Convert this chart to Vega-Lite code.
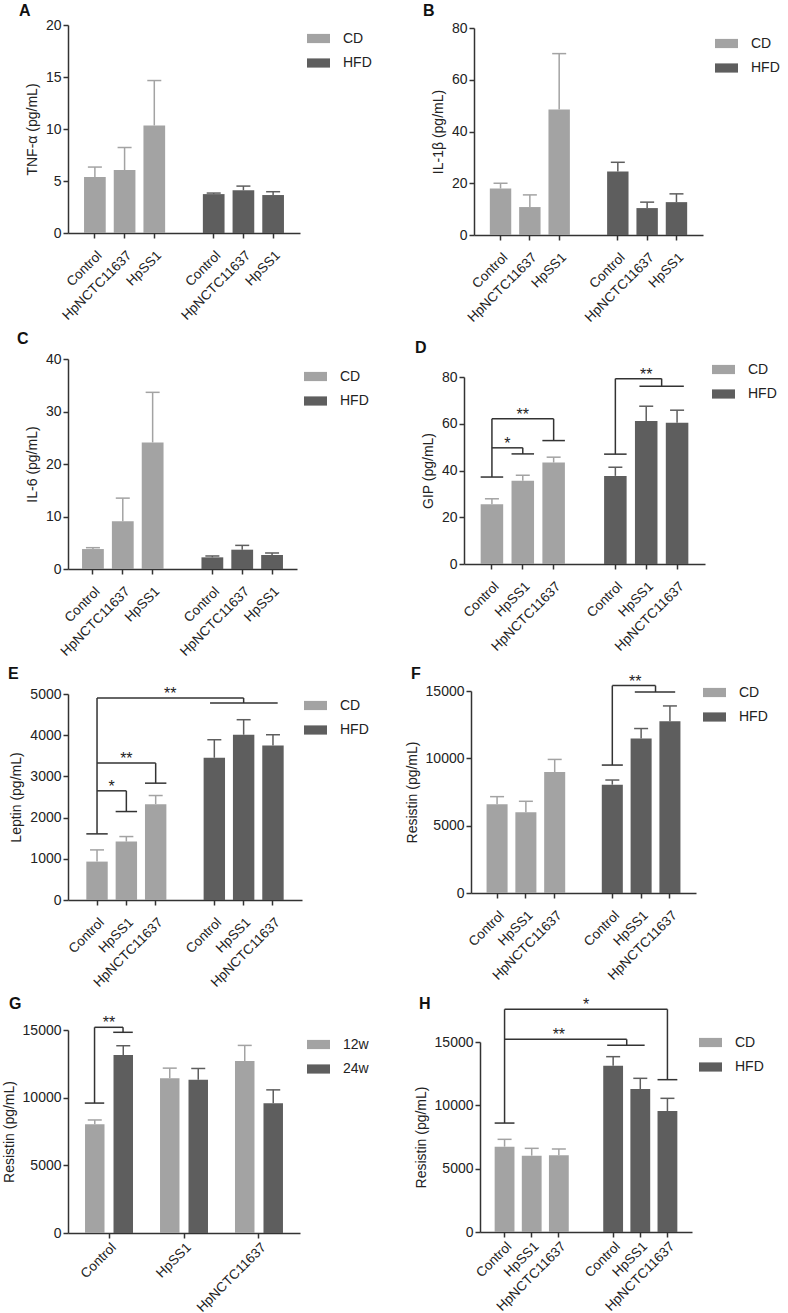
{
"$schema": "https://vega.github.io/schema/vega-lite/v6.json",
"padding": {"left": 2, "top": 3, "right": 2, "bottom": 0},
"background": "white",
"config": {
 "view": {"stroke": null},
 "font": "Liberation Sans",
 "axis": {"labelFont": "Liberation Sans", "titleFont": "Liberation Sans", "labelFontSize": 14, "titleFontSize": 14, "titleFontWeight": "normal", "labelColor": "#222", "titleColor": "#222", "domainColor": "#333", "tickColor": "#333", "domainWidth": 1.5, "tickWidth": 1.5, "tickSize": 5, "grid": false, "labelPadding": 2},
 "axisX": {"labelAngle": -45, "labelFontSize": 13.5, "labelPadding": 10},
 "axisY": {"titlePadding": 6},
 "legend": {"orient": "none", "symbolType": "M-1,-0.4H1V0.4H-1Z", "symbolSize": 529, "symbolStrokeWidth": 0, "symbolOpacity": 1, "labelFont": "Liberation Sans", "labelFontSize": 14, "labelColor": "#222", "labelOffset": 13, "rowPadding": 5.5, "padding": 0},
 "title": {"anchor": "start", "frame": "group", "fontSize": 16, "fontWeight": "bold", "font": "Liberation Sans", "color": "#111", "offset": 4},
 "text": {"font": "Liberation Sans"},
 "tick": {"opacity": 1}
},
"datasets": {
 "bars": [
  {"panel": "A", "group": "CD", "key": "CD|Control", "mean": 5.38, "upper": 6.34},
  {"panel": "A", "group": "CD", "key": "CD|HpNCTC11637", "mean": 6.05, "upper": 8.22},
  {"panel": "A", "group": "CD", "key": "CD|HpSS1", "mean": 10.34, "upper": 14.66},
  {"panel": "A", "group": "HFD", "key": "HFD|Control", "mean": 3.74, "upper": 3.84},
  {"panel": "A", "group": "HFD", "key": "HFD|HpNCTC11637", "mean": 4.1, "upper": 4.51},
  {"panel": "A", "group": "HFD", "key": "HFD|HpSS1", "mean": 3.65, "upper": 3.97},
  {"panel": "B", "group": "CD", "key": "CD|Control", "mean": 17.97, "upper": 20.0},
  {"panel": "B", "group": "CD", "key": "CD|HpNCTC11637", "mean": 10.8, "upper": 15.5},
  {"panel": "B", "group": "CD", "key": "CD|HpSS1", "mean": 48.5, "upper": 70.1},
  {"panel": "B", "group": "HFD", "key": "HFD|Control", "mean": 24.5, "upper": 28.1},
  {"panel": "B", "group": "HFD", "key": "HFD|HpNCTC11637", "mean": 10.4, "upper": 12.7},
  {"panel": "B", "group": "HFD", "key": "HFD|HpSS1", "mean": 12.7, "upper": 15.9},
  {"panel": "C", "group": "CD", "key": "CD|Control", "mean": 3.8, "upper": 4.06},
  {"panel": "C", "group": "CD", "key": "CD|HpNCTC11637", "mean": 9.08, "upper": 13.5},
  {"panel": "C", "group": "CD", "key": "CD|HpSS1", "mean": 24.1, "upper": 33.65},
  {"panel": "C", "group": "HFD", "key": "HFD|Control", "mean": 2.22, "upper": 2.48},
  {"panel": "C", "group": "HFD", "key": "HFD|HpNCTC11637", "mean": 3.68, "upper": 4.5},
  {"panel": "C", "group": "HFD", "key": "HFD|HpSS1", "mean": 2.67, "upper": 3.05},
  {"panel": "D", "group": "CD", "key": "CD|Control", "mean": 25.6, "upper": 27.9},
  {"panel": "D", "group": "CD", "key": "CD|HpSS1", "mean": 35.6, "upper": 38.0},
  {"panel": "D", "group": "CD", "key": "CD|HpNCTC11637", "mean": 43.4, "upper": 45.7},
  {"panel": "D", "group": "HFD", "key": "HFD|Control", "mean": 37.7, "upper": 41.4},
  {"panel": "D", "group": "HFD", "key": "HFD|HpSS1", "mean": 61.2, "upper": 67.5},
  {"panel": "D", "group": "HFD", "key": "HFD|HpNCTC11637", "mean": 60.4, "upper": 65.8},
  {"panel": "E", "group": "CD", "key": "CD|Control", "mean": 932, "upper": 1216},
  {"panel": "E", "group": "CD", "key": "CD|HpSS1", "mean": 1418, "upper": 1540},
  {"panel": "E", "group": "CD", "key": "CD|HpNCTC11637", "mean": 2326, "upper": 2536},
  {"panel": "E", "group": "HFD", "key": "HFD|Control", "mean": 3452, "upper": 3890},
  {"panel": "E", "group": "HFD", "key": "HFD|HpSS1", "mean": 4011, "upper": 4376},
  {"panel": "E", "group": "HFD", "key": "HFD|HpNCTC11637", "mean": 3752, "upper": 4011},
  {"panel": "F", "group": "CD", "key": "CD|Control", "mean": 6588, "upper": 7155},
  {"panel": "F", "group": "CD", "key": "CD|HpSS1", "mean": 5996, "upper": 6810},
  {"panel": "F", "group": "CD", "key": "CD|HpNCTC11637", "mean": 8981, "upper": 9919},
  {"panel": "F", "group": "HFD", "key": "HFD|Control", "mean": 8043, "upper": 8389},
  {"panel": "F", "group": "HFD", "key": "HFD|HpSS1", "mean": 11473, "upper": 12213},
  {"panel": "F", "group": "HFD", "key": "HFD|HpNCTC11637", "mean": 12756, "upper": 13891},
  {"panel": "G", "group": "12w", "key": "Control", "mean": 8031, "upper": 8352},
  {"panel": "G", "group": "24w", "key": "Control", "mean": 13146, "upper": 13838},
  {"panel": "G", "group": "12w", "key": "HpSS1", "mean": 11441, "upper": 12182},
  {"panel": "G", "group": "24w", "key": "HpSS1", "mean": 11317, "upper": 12157},
  {"panel": "G", "group": "12w", "key": "HpNCTC11637", "mean": 12701, "upper": 13862},
  {"panel": "G", "group": "24w", "key": "HpNCTC11637", "mean": 9587, "upper": 10576},
  {"panel": "H", "group": "CD", "key": "CD|Control", "mean": 6737, "upper": 7316},
  {"panel": "H", "group": "CD", "key": "CD|HpSS1", "mean": 6026, "upper": 6605},
  {"panel": "H", "group": "CD", "key": "CD|HpNCTC11637", "mean": 6053, "upper": 6553},
  {"panel": "H", "group": "HFD", "key": "HFD|Control", "mean": 13132, "upper": 13842},
  {"panel": "H", "group": "HFD", "key": "HFD|HpSS1", "mean": 11289, "upper": 12132},
  {"panel": "H", "group": "HFD", "key": "HFD|HpNCTC11637", "mean": 9553, "upper": 10553}
 ],
 "brk": [
  {"panel": "D", "kind": "cap", "x": "CD|Control", "y": 37.2},
  {"panel": "D", "kind": "v", "x": "CD|Control", "y": 37.2, "y2": 62.1},
  {"panel": "D", "kind": "h", "x": "CD|Control", "x2": "CD|HpSS1", "y": 49.7},
  {"panel": "D", "kind": "v", "x": "CD|HpSS1", "y": 49.7, "y2": 47.1},
  {"panel": "D", "kind": "cap", "x": "CD|HpSS1", "y": 47.1},
  {"panel": "D", "kind": "h", "x": "CD|Control", "x2": "CD|HpNCTC11637", "y": 62.1},
  {"panel": "D", "kind": "v", "x": "CD|HpNCTC11637", "y": 62.1, "y2": 52.8},
  {"panel": "D", "kind": "cap", "x": "CD|HpNCTC11637", "y": 52.8},
  {"panel": "D", "kind": "tm", "x": "CD|Control", "y": 49.7, "label": "*"},
  {"panel": "D", "kind": "tc", "x": "CD|HpSS1", "y": 62.1, "label": "**"},
  {"panel": "D", "kind": "cap", "x": "HFD|Control", "y": 47.0},
  {"panel": "D", "kind": "v", "x": "HFD|Control", "y": 47.0, "y2": 79.3},
  {"panel": "D", "kind": "hm", "x": "HFD|Control", "x2": "HFD|HpSS1", "y": 79.3},
  {"panel": "D", "kind": "vm", "x": "HFD|HpSS1", "y": 79.3, "y2": 76.0},
  {"panel": "D", "kind": "span", "x": "HFD|HpSS1", "x2": "HFD|HpNCTC11637", "y": 76.0},
  {"panel": "D", "kind": "tc", "x": "HFD|HpSS1", "y": 79.3, "label": "**"},
  {"panel": "E", "kind": "cap", "x": "CD|Control", "y": 1605},
  {"panel": "E", "kind": "v", "x": "CD|Control", "y": 1605, "y2": 4903},
  {"panel": "E", "kind": "h", "x": "CD|Control", "x2": "CD|HpSS1", "y": 2650},
  {"panel": "E", "kind": "v", "x": "CD|HpSS1", "y": 2650, "y2": 2147},
  {"panel": "E", "kind": "cap", "x": "CD|HpSS1", "y": 2147},
  {"panel": "E", "kind": "h", "x": "CD|Control", "x2": "CD|HpNCTC11637", "y": 3323},
  {"panel": "E", "kind": "v", "x": "CD|HpNCTC11637", "y": 3323, "y2": 2836},
  {"panel": "E", "kind": "cap", "x": "CD|HpNCTC11637", "y": 2836},
  {"panel": "E", "kind": "h", "x": "CD|Control", "x2": "HFD|HpSS1", "y": 4903},
  {"panel": "E", "kind": "v", "x": "HFD|HpSS1", "y": 4903, "y2": 4781},
  {"panel": "E", "kind": "span", "x": "HFD|Control", "x2": "HFD|HpNCTC11637", "y": 4781},
  {"panel": "E", "kind": "tm", "x": "CD|Control", "y": 2650, "label": "*"},
  {"panel": "E", "kind": "tc", "x": "CD|HpSS1", "y": 3323, "label": "**"},
  {"panel": "E", "kind": "tm", "x": "CD|HpNCTC11637", "y": 4903, "label": "**"},
  {"panel": "F", "kind": "cap", "x": "HFD|Control", "y": 9500},
  {"panel": "F", "kind": "v", "x": "HFD|Control", "y": 9500, "y2": 15400},
  {"panel": "F", "kind": "hm", "x": "HFD|Control", "x2": "HFD|HpSS1", "y": 15400},
  {"panel": "F", "kind": "vm", "x": "HFD|HpSS1", "y": 15400, "y2": 14927},
  {"panel": "F", "kind": "span", "x": "HFD|HpSS1", "x2": "HFD|HpNCTC11637", "y": 14927},
  {"panel": "F", "kind": "tc", "x": "HFD|HpSS1", "y": 15400, "label": "**"},
  {"panel": "G", "kind": "gcapL", "x": "Control", "y": 9600},
  {"panel": "G", "kind": "gvL", "x": "Control", "y": 9600, "y2": 15200},
  {"panel": "G", "kind": "gh", "x": "Control", "y": 15200},
  {"panel": "G", "kind": "gvR", "x": "Control", "y": 15200, "y2": 14830},
  {"panel": "G", "kind": "gcapR", "x": "Control", "y": 14830},
  {"panel": "G", "kind": "gt", "x": "Control", "y": 15200, "label": "**"},
  {"panel": "H", "kind": "cap", "x": "CD|Control", "y": 8600},
  {"panel": "H", "kind": "v", "x": "CD|Control", "y": 8600, "y2": 17580},
  {"panel": "H", "kind": "hm", "x": "CD|Control", "x2": "HFD|Control", "y": 15210},
  {"panel": "H", "kind": "vm", "x": "HFD|Control", "y": 15210, "y2": 14737},
  {"panel": "H", "kind": "span", "x": "HFD|Control", "x2": "HFD|HpSS1", "y": 14737},
  {"panel": "H", "kind": "h", "x": "CD|Control", "x2": "HFD|HpNCTC11637", "y": 17580},
  {"panel": "H", "kind": "v", "x": "HFD|HpNCTC11637", "y": 17580, "y2": 12026},
  {"panel": "H", "kind": "cap", "x": "HFD|HpNCTC11637", "y": 12026},
  {"panel": "H", "kind": "tc", "x": "CD|HpNCTC11637", "y": 15210, "label": "**"},
  {"panel": "H", "kind": "tc", "x": "gap", "y": 17580, "label": "*"}
 ]
},
"spacing": 6,
"resolve": {"scale": {"color": "independent"}, "legend": {"color": "independent"}},
"vconcat": [
 {"spacing": 51, "resolve": {"scale": {"color": "independent", "x": "independent", "y": "independent"}, "legend": {"color": "independent"}},
  "hconcat": [
  {"width": 232, "height": 208, "title": {"text": "A", "dx": -49, "offset": -1},
   "data": {"name": "bars"}, "transform": [{"filter": "datum.panel === 'A'"}],
   "layer": [
    {"mark": {"type": "bar"},
     "encoding": {
      "x": {"field": "key", "type": "nominal", "scale": {"domain": ["CD|Control","CD|HpNCTC11637","CD|HpSS1","gap","HFD|Control","HFD|HpNCTC11637","HFD|HpSS1"], "paddingInner": 0.27, "paddingOuter": 0.54}, "axis": {"values": ["CD|Control","CD|HpNCTC11637","CD|HpSS1","HFD|Control","HFD|HpNCTC11637","HFD|HpSS1"], "labelExpr": "split(datum.value, '|')[1]", "title": null}},
      "y": {"field": "mean", "type": "quantitative", "scale": {"domain": [0, 20], "nice": false}, "axis": {"values": [0, 5, 10, 15, 20], "title": "TNF-α (pg/mL)"}},
      "color": {"field": "group", "type": "nominal", "scale": {"domain": ["CD", "HFD"], "range": ["#a3a3a3", "#5e5e5e"]}, "legend": {"title": null, "legendX": 239, "legendY": 2}}
     }},
    {"mark": {"type": "rule", "strokeWidth": 1.5}, "encoding": {"x": {"field": "key", "type": "nominal"}, "y": {"field": "mean", "type": "quantitative"}, "y2": {"field": "upper"}, "color": {"field": "group", "type": "nominal"}}},
    {"mark": {"type": "tick", "thickness": 1.5, "size": 14, "opacity": 1}, "encoding": {"x": {"field": "key", "type": "nominal"}, "y": {"field": "upper", "type": "quantitative"}, "color": {"field": "group", "type": "nominal"}}}
   ]},
  {"width": 229, "height": 210, "title": {"text": "B", "dx": -51, "offset": 2},
   "data": {"name": "bars"}, "transform": [{"filter": "datum.panel === 'B'"}],
   "layer": [
    {"mark": {"type": "bar"},
     "encoding": {
      "x": {"field": "key", "type": "nominal", "scale": {"domain": ["CD|Control","CD|HpNCTC11637","CD|HpSS1","gap","HFD|Control","HFD|HpNCTC11637","HFD|HpSS1"], "paddingInner": 0.27, "paddingOuter": 0.54}, "axis": {"values": ["CD|Control","CD|HpNCTC11637","CD|HpSS1","HFD|Control","HFD|HpNCTC11637","HFD|HpSS1"], "labelExpr": "split(datum.value, '|')[1]", "title": null}},
      "y": {"field": "mean", "type": "quantitative", "scale": {"domain": [0, 80], "nice": false, "range": [210, 3]}, "axis": {"values": [0, 20, 40, 60, 80], "title": "IL-1β (pg/mL)"}},
      "color": {"field": "group", "type": "nominal", "scale": {"domain": ["CD", "HFD"], "range": ["#a3a3a3", "#5e5e5e"]}, "legend": {"title": null, "legendX": 241, "legendY": 7}}
     }},
    {"mark": {"type": "rule", "strokeWidth": 1.5}, "encoding": {"x": {"field": "key", "type": "nominal"}, "y": {"field": "mean", "type": "quantitative"}, "y2": {"field": "upper"}, "color": {"field": "group", "type": "nominal"}}},
    {"mark": {"type": "tick", "thickness": 1.5, "size": 14, "opacity": 1}, "encoding": {"x": {"field": "key", "type": "nominal"}, "y": {"field": "upper", "type": "quantitative"}, "color": {"field": "group", "type": "nominal"}}}
   ]}
 ]},
 {"spacing": 46, "resolve": {"scale": {"color": "independent", "x": "independent", "y": "independent"}, "legend": {"color": "independent"}},
  "hconcat": [
  {"width": 229, "height": 210, "title": {"text": "C", "dx": -51, "offset": 5},
   "data": {"name": "bars"}, "transform": [{"filter": "datum.panel === 'C'"}],
   "layer": [
    {"mark": {"type": "bar"},
     "encoding": {
      "x": {"field": "key", "type": "nominal", "scale": {"domain": ["CD|Control","CD|HpNCTC11637","CD|HpSS1","gap","HFD|Control","HFD|HpNCTC11637","HFD|HpSS1"], "paddingInner": 0.27, "paddingOuter": 0.47}, "axis": {"values": ["CD|Control","CD|HpNCTC11637","CD|HpSS1","HFD|Control","HFD|HpNCTC11637","HFD|HpSS1"], "labelExpr": "split(datum.value, '|')[1]", "title": null}},
      "y": {"field": "mean", "type": "quantitative", "scale": {"domain": [0, 40], "nice": false}, "axis": {"values": [0, 10, 20, 30, 40], "title": "IL-6 (pg/mL)"}},
      "color": {"field": "group", "type": "nominal", "scale": {"domain": ["CD", "HFD"], "range": ["#a3a3a3", "#5e5e5e"]}, "legend": {"title": null, "legendX": 236, "legendY": 6}}
     }},
    {"mark": {"type": "rule", "strokeWidth": 1.5}, "encoding": {"x": {"field": "key", "type": "nominal"}, "y": {"field": "mean", "type": "quantitative"}, "y2": {"field": "upper"}, "color": {"field": "group", "type": "nominal"}}},
    {"mark": {"type": "tick", "thickness": 1.5, "size": 14, "opacity": 1}, "encoding": {"x": {"field": "key", "type": "nominal"}, "y": {"field": "upper", "type": "quantitative"}, "color": {"field": "group", "type": "nominal"}}}
   ]},
  {"width": 241, "height": 205, "title": {"text": "D", "dx": -49, "offset": 2},
   "data": {"name": "bars"}, "transform": [{"filter": "datum.panel === 'D'"}],
   "layer": [
    {"mark": {"type": "bar"},
     "encoding": {
      "x": {"field": "key", "type": "nominal", "scale": {"domain": ["CD|Control","CD|HpSS1","CD|HpNCTC11637","gap","HFD|Control","HFD|HpSS1","HFD|HpNCTC11637"], "paddingInner": 0.27, "paddingOuter": 0.54}, "axis": {"values": ["CD|Control","CD|HpSS1","CD|HpNCTC11637","HFD|Control","HFD|HpSS1","HFD|HpNCTC11637"], "labelExpr": "split(datum.value, '|')[1]", "title": null}},
      "y": {"field": "mean", "type": "quantitative", "scale": {"domain": [0, 80], "nice": false, "range": [205, 18]}, "axis": {"values": [0, 20, 40, 60, 80], "title": "GIP (pg/mL)"}},
      "color": {"field": "group", "type": "nominal", "scale": {"domain": ["CD", "HFD"], "range": ["#a3a3a3", "#5e5e5e"]}, "legend": {"title": null, "legendX": 248, "legendY": -1}}
     }},
    {"mark": {"type": "rule", "strokeWidth": 1.5}, "encoding": {"x": {"field": "key", "type": "nominal"}, "y": {"field": "mean", "type": "quantitative"}, "y2": {"field": "upper"}, "color": {"field": "group", "type": "nominal"}}},
    {"mark": {"type": "tick", "thickness": 1.5, "size": 14, "opacity": 1}, "encoding": {"x": {"field": "key", "type": "nominal"}, "y": {"field": "upper", "type": "quantitative"}, "color": {"field": "group", "type": "nominal"}}},
    {"data": {"name": "brk"}, "transform": [{"filter": "datum.panel === 'D' && datum.kind === 'v'"}], "mark": {"type": "rule", "color": "#333", "strokeWidth": 1.5}, "encoding": {"x": {"field": "x", "type": "nominal", "bandPosition": 0.5}, "y": {"field": "y", "type": "quantitative"}, "y2": {"field": "y2"}}},
    {"data": {"name": "brk"}, "transform": [{"filter": "datum.panel === 'D' && datum.kind === 'vm'"}], "mark": {"type": "rule", "color": "#333", "strokeWidth": 1.5}, "encoding": {"x": {"field": "x", "type": "nominal", "bandPosition": 1.185}, "y": {"field": "y", "type": "quantitative"}, "y2": {"field": "y2"}}},
    {"data": {"name": "brk"}, "transform": [{"filter": "datum.panel === 'D' && datum.kind === 'h'"}], "mark": {"type": "rule", "color": "#333", "strokeWidth": 1.5}, "encoding": {"x": {"field": "x", "type": "nominal", "bandPosition": 0.5}, "x2": {"field": "x2", "bandPosition": 0.5}, "y": {"field": "y", "type": "quantitative"}}},
    {"data": {"name": "brk"}, "transform": [{"filter": "datum.panel === 'D' && datum.kind === 'hm'"}], "mark": {"type": "rule", "color": "#333", "strokeWidth": 1.5}, "encoding": {"x": {"field": "x", "type": "nominal", "bandPosition": 0.5}, "x2": {"field": "x2", "bandPosition": 1.185}, "y": {"field": "y", "type": "quantitative"}}},
    {"data": {"name": "brk"}, "transform": [{"filter": "datum.panel === 'D' && datum.kind === 'cap'"}], "mark": {"type": "rule", "color": "#333", "strokeWidth": 1.5}, "encoding": {"x": {"field": "x", "type": "nominal", "bandPosition": 0}, "x2": {"field": "x", "bandPosition": 1}, "y": {"field": "y", "type": "quantitative"}}},
    {"data": {"name": "brk"}, "transform": [{"filter": "datum.panel === 'D' && datum.kind === 'span'"}], "mark": {"type": "rule", "color": "#333", "strokeWidth": 1.5}, "encoding": {"x": {"field": "x", "type": "nominal", "bandPosition": 0.2}, "x2": {"field": "x2", "bandPosition": 0.8}, "y": {"field": "y", "type": "quantitative"}}},
    {"data": {"name": "brk"}, "transform": [{"filter": "datum.panel === 'D' && datum.kind === 'tc'"}], "mark": {"type": "text", "fontSize": 16, "baseline": "alphabetic", "dy": 1, "color": "#222"}, "encoding": {"x": {"field": "x", "type": "nominal", "bandPosition": 0.5}, "y": {"field": "y", "type": "quantitative"}, "text": {"field": "label"}}},
    {"data": {"name": "brk"}, "transform": [{"filter": "datum.panel === 'D' && datum.kind === 'tm'"}], "mark": {"type": "text", "fontSize": 16, "baseline": "alphabetic", "dy": 1, "color": "#222"}, "encoding": {"x": {"field": "x", "type": "nominal", "bandPosition": 1.185}, "y": {"field": "y", "type": "quantitative"}, "text": {"field": "label"}}}
   ]}
 ]},
 {"spacing": 36, "resolve": {"scale": {"color": "independent", "x": "independent", "y": "independent"}, "legend": {"color": "independent"}},
  "hconcat": [
  {"width": 234, "height": 209, "title": {"text": "E", "dx": -60, "offset": 4},
   "data": {"name": "bars"}, "transform": [{"filter": "datum.panel === 'E'"}],
   "layer": [
    {"mark": {"type": "bar"},
     "encoding": {
      "x": {"field": "key", "type": "nominal", "scale": {"domain": ["CD|Control","CD|HpSS1","CD|HpNCTC11637","gap","HFD|Control","HFD|HpSS1","HFD|HpNCTC11637"], "paddingInner": 0.27, "paddingOuter": 0.625}, "axis": {"values": ["CD|Control","CD|HpSS1","CD|HpNCTC11637","HFD|Control","HFD|HpSS1","HFD|HpNCTC11637"], "labelExpr": "split(datum.value, '|')[1]", "title": null}},
      "y": {"field": "mean", "type": "quantitative", "scale": {"domain": [0, 5000], "nice": false, "range": [209, 3]}, "axis": {"values": [0, 1000, 2000, 3000, 4000, 5000], "format": "d", "title": "Leptin (pg/mL)"}},
      "color": {"field": "group", "type": "nominal", "scale": {"domain": ["CD", "HFD"], "range": ["#a3a3a3", "#5e5e5e"]}, "legend": {"title": null, "legendX": 236, "legendY": 3}}
     }},
    {"mark": {"type": "rule", "strokeWidth": 1.5}, "encoding": {"x": {"field": "key", "type": "nominal"}, "y": {"field": "mean", "type": "quantitative"}, "y2": {"field": "upper"}, "color": {"field": "group", "type": "nominal"}}},
    {"mark": {"type": "tick", "thickness": 1.5, "size": 14, "opacity": 1}, "encoding": {"x": {"field": "key", "type": "nominal"}, "y": {"field": "upper", "type": "quantitative"}, "color": {"field": "group", "type": "nominal"}}},
    {"data": {"name": "brk"}, "transform": [{"filter": "datum.panel === 'E' && datum.kind === 'v'"}], "mark": {"type": "rule", "color": "#333", "strokeWidth": 1.5}, "encoding": {"x": {"field": "x", "type": "nominal", "bandPosition": 0.5}, "y": {"field": "y", "type": "quantitative"}, "y2": {"field": "y2"}}},
    {"data": {"name": "brk"}, "transform": [{"filter": "datum.panel === 'E' && datum.kind === 'h'"}], "mark": {"type": "rule", "color": "#333", "strokeWidth": 1.5}, "encoding": {"x": {"field": "x", "type": "nominal", "bandPosition": 0.5}, "x2": {"field": "x2", "bandPosition": 0.5}, "y": {"field": "y", "type": "quantitative"}}},
    {"data": {"name": "brk"}, "transform": [{"filter": "datum.panel === 'E' && datum.kind === 'cap'"}], "mark": {"type": "rule", "color": "#333", "strokeWidth": 1.5}, "encoding": {"x": {"field": "x", "type": "nominal", "bandPosition": 0}, "x2": {"field": "x", "bandPosition": 1}, "y": {"field": "y", "type": "quantitative"}}},
    {"data": {"name": "brk"}, "transform": [{"filter": "datum.panel === 'E' && datum.kind === 'span'"}], "mark": {"type": "rule", "color": "#333", "strokeWidth": 1.5}, "encoding": {"x": {"field": "x", "type": "nominal", "bandPosition": 0.3}, "x2": {"field": "x2", "bandPosition": 0.72}, "y": {"field": "y", "type": "quantitative"}}},
    {"data": {"name": "brk"}, "transform": [{"filter": "datum.panel === 'E' && datum.kind === 'tc'"}], "mark": {"type": "text", "fontSize": 16, "baseline": "alphabetic", "dy": 1, "color": "#222"}, "encoding": {"x": {"field": "x", "type": "nominal", "bandPosition": 0.5}, "y": {"field": "y", "type": "quantitative"}, "text": {"field": "label"}}},
    {"data": {"name": "brk"}, "transform": [{"filter": "datum.panel === 'E' && datum.kind === 'tm'"}], "mark": {"type": "text", "fontSize": 16, "baseline": "alphabetic", "dy": 1, "color": "#222"}, "encoding": {"x": {"field": "x", "type": "nominal", "bandPosition": 1.185}, "y": {"field": "y", "type": "quantitative"}, "text": {"field": "label"}}}
   ]},
  {"width": 225, "height": 202, "title": {"text": "F", "dx": -60, "offset": -8},
   "data": {"name": "bars"}, "transform": [{"filter": "datum.panel === 'F'"}],
   "layer": [
    {"mark": {"type": "bar"},
     "encoding": {
      "x": {"field": "key", "type": "nominal", "scale": {"domain": ["CD|Control","CD|HpSS1","CD|HpNCTC11637","gap","HFD|Control","HFD|HpSS1","HFD|HpNCTC11637"], "paddingInner": 0.27, "paddingOuter": 0.54}, "axis": {"values": ["CD|Control","CD|HpSS1","CD|HpNCTC11637","HFD|Control","HFD|HpSS1","HFD|HpNCTC11637"], "labelExpr": "split(datum.value, '|')[1]", "title": null}},
      "y": {"field": "mean", "type": "quantitative", "scale": {"domain": [0, 15000], "nice": false}, "axis": {"values": [0, 5000, 10000, 15000], "format": "d", "title": "Resistin (pg/mL)"}},
      "color": {"field": "group", "type": "nominal", "scale": {"domain": ["CD", "HFD"], "range": ["#a3a3a3", "#5e5e5e"]}, "legend": {"title": null, "legendX": 232, "legendY": -10}}
     }},
    {"mark": {"type": "rule", "strokeWidth": 1.5}, "encoding": {"x": {"field": "key", "type": "nominal"}, "y": {"field": "mean", "type": "quantitative"}, "y2": {"field": "upper"}, "color": {"field": "group", "type": "nominal"}}},
    {"mark": {"type": "tick", "thickness": 1.5, "size": 14, "opacity": 1}, "encoding": {"x": {"field": "key", "type": "nominal"}, "y": {"field": "upper", "type": "quantitative"}, "color": {"field": "group", "type": "nominal"}}},
    {"data": {"name": "brk"}, "transform": [{"filter": "datum.panel === 'F' && datum.kind === 'v'"}], "mark": {"type": "rule", "color": "#333", "strokeWidth": 1.5}, "encoding": {"x": {"field": "x", "type": "nominal", "bandPosition": 0.5}, "y": {"field": "y", "type": "quantitative"}, "y2": {"field": "y2"}}},
    {"data": {"name": "brk"}, "transform": [{"filter": "datum.panel === 'F' && datum.kind === 'vm'"}], "mark": {"type": "rule", "color": "#333", "strokeWidth": 1.5}, "encoding": {"x": {"field": "x", "type": "nominal", "bandPosition": 1.185}, "y": {"field": "y", "type": "quantitative"}, "y2": {"field": "y2"}}},
    {"data": {"name": "brk"}, "transform": [{"filter": "datum.panel === 'F' && datum.kind === 'hm'"}], "mark": {"type": "rule", "color": "#333", "strokeWidth": 1.5}, "encoding": {"x": {"field": "x", "type": "nominal", "bandPosition": 0.5}, "x2": {"field": "x2", "bandPosition": 1.185}, "y": {"field": "y", "type": "quantitative"}}},
    {"data": {"name": "brk"}, "transform": [{"filter": "datum.panel === 'F' && datum.kind === 'cap'"}], "mark": {"type": "rule", "color": "#333", "strokeWidth": 1.5}, "encoding": {"x": {"field": "x", "type": "nominal", "bandPosition": 0}, "x2": {"field": "x", "bandPosition": 1}, "y": {"field": "y", "type": "quantitative"}}},
    {"data": {"name": "brk"}, "transform": [{"filter": "datum.panel === 'F' && datum.kind === 'span'"}], "mark": {"type": "rule", "color": "#333", "strokeWidth": 1.5}, "encoding": {"x": {"field": "x", "type": "nominal", "bandPosition": 0.2}, "x2": {"field": "x2", "bandPosition": 0.75}, "y": {"field": "y", "type": "quantitative"}}},
    {"data": {"name": "brk"}, "transform": [{"filter": "datum.panel === 'F' && datum.kind === 'tc'"}], "mark": {"type": "text", "fontSize": 16, "baseline": "alphabetic", "dy": 1, "dx": -6, "color": "#222"}, "encoding": {"x": {"field": "x", "type": "nominal", "bandPosition": 0.5}, "y": {"field": "y", "type": "quantitative"}, "text": {"field": "label"}}}
   ]}
 ]},
 {"spacing": 45, "resolve": {"scale": {"color": "independent", "x": "independent", "y": "independent"}, "legend": {"color": "independent"}},
  "hconcat": [
  {"width": 232, "height": 203, "title": {"text": "G", "dx": -59, "offset": 3},
   "data": {"name": "bars"}, "transform": [{"filter": "datum.panel === 'G'"}],
   "layer": [
    {"mark": {"type": "bar"},
     "encoding": {
      "x": {"field": "key", "type": "nominal", "scale": {"domain": ["Control", "HpSS1", "HpNCTC11637"], "paddingInner": 0, "paddingOuter": 0.047}, "axis": {"title": null, "labelPadding": 2}},
      "xOffset": {"field": "group", "type": "nominal", "scale": {"domain": ["12w", "24w"], "paddingInner": 0.316, "paddingOuter": 0.474}},
      "y": {"field": "mean", "type": "quantitative", "scale": {"domain": [0, 15000], "nice": false}, "axis": {"values": [0, 5000, 10000, 15000], "format": "d", "title": "Resistin (pg/mL)"}},
      "color": {"field": "group", "type": "nominal", "scale": {"domain": ["12w", "24w"], "range": ["#a3a3a3", "#5e5e5e"]}, "legend": {"title": null, "legendX": 239, "legendY": 3}}
     }},
    {"mark": {"type": "rule", "strokeWidth": 1.5}, "encoding": {"x": {"field": "key", "type": "nominal"}, "xOffset": {"field": "group", "type": "nominal"}, "y": {"field": "mean", "type": "quantitative"}, "y2": {"field": "upper"}, "color": {"field": "group", "type": "nominal"}}},
    {"mark": {"type": "tick", "thickness": 1.5, "size": 14, "opacity": 1}, "encoding": {"x": {"field": "key", "type": "nominal"}, "xOffset": {"field": "group", "type": "nominal"}, "y": {"field": "upper", "type": "quantitative"}, "color": {"field": "group", "type": "nominal"}}},
    {"data": {"name": "brk"}, "transform": [{"filter": "datum.panel === 'G' && datum.kind === 'gcapL'"}], "mark": {"type": "rule", "color": "#333", "strokeWidth": 1.5}, "encoding": {"x": {"field": "x", "type": "nominal", "bandPosition": 0.177}, "x2": {"field": "x", "bandPosition": 0.436}, "y": {"field": "y", "type": "quantitative"}}},
    {"data": {"name": "brk"}, "transform": [{"filter": "datum.panel === 'G' && datum.kind === 'gvL'"}], "mark": {"type": "rule", "color": "#333", "strokeWidth": 1.5}, "encoding": {"x": {"field": "x", "type": "nominal", "bandPosition": 0.307}, "y": {"field": "y", "type": "quantitative"}, "y2": {"field": "y2"}}},
    {"data": {"name": "brk"}, "transform": [{"filter": "datum.panel === 'G' && datum.kind === 'gh'"}], "mark": {"type": "rule", "color": "#333", "strokeWidth": 1.5}, "encoding": {"x": {"field": "x", "type": "nominal", "bandPosition": 0.307}, "x2": {"field": "x", "bandPosition": 0.687}, "y": {"field": "y", "type": "quantitative"}}},
    {"data": {"name": "brk"}, "transform": [{"filter": "datum.panel === 'G' && datum.kind === 'gvR'"}], "mark": {"type": "rule", "color": "#333", "strokeWidth": 1.5}, "encoding": {"x": {"field": "x", "type": "nominal", "bandPosition": 0.687}, "y": {"field": "y", "type": "quantitative"}, "y2": {"field": "y2"}}},
    {"data": {"name": "brk"}, "transform": [{"filter": "datum.panel === 'G' && datum.kind === 'gcapR'"}], "mark": {"type": "rule", "color": "#333", "strokeWidth": 1.5}, "encoding": {"x": {"field": "x", "type": "nominal", "bandPosition": 0.556}, "x2": {"field": "x", "bandPosition": 0.817}, "y": {"field": "y", "type": "quantitative"}}},
    {"data": {"name": "brk"}, "transform": [{"filter": "datum.panel === 'G' && datum.kind === 'gt'"}], "mark": {"type": "text", "fontSize": 16, "baseline": "alphabetic", "dy": 1, "color": "#222"}, "encoding": {"x": {"field": "x", "type": "nominal", "bandPosition": 0.5}, "y": {"field": "y", "type": "quantitative"}, "text": {"field": "label"}}}
   ]},
  {"width": 212, "height": 202, "title": {"text": "H", "dx": -61, "offset": -15},
   "data": {"name": "bars"}, "transform": [{"filter": "datum.panel === 'H'"}],
   "layer": [
    {"mark": {"type": "bar"},
     "encoding": {
      "x": {"field": "key", "type": "nominal", "scale": {"domain": ["CD|Control","CD|HpSS1","CD|HpNCTC11637","gap","HFD|Control","HFD|HpSS1","HFD|HpNCTC11637"], "paddingInner": 0.27, "paddingOuter": 0.54}, "axis": {"values": ["CD|Control","CD|HpSS1","CD|HpNCTC11637","HFD|Control","HFD|HpSS1","HFD|HpNCTC11637"], "labelExpr": "split(datum.value, '|')[1]", "title": null, "labelPadding": 2}},
      "y": {"field": "mean", "type": "quantitative", "scale": {"domain": [0, 15000], "nice": false, "range": [202, 12]}, "axis": {"values": [0, 5000, 10000, 15000], "format": "d", "title": "Resistin (pg/mL)"}},
      "color": {"field": "group", "type": "nominal", "scale": {"domain": ["CD", "HFD"], "range": ["#a3a3a3", "#5e5e5e"]}, "legend": {"title": null, "legendX": 219, "legendY": 1}}
     }},
    {"mark": {"type": "rule", "strokeWidth": 1.5}, "encoding": {"x": {"field": "key", "type": "nominal"}, "y": {"field": "mean", "type": "quantitative"}, "y2": {"field": "upper"}, "color": {"field": "group", "type": "nominal"}}},
    {"mark": {"type": "tick", "thickness": 1.5, "size": 14, "opacity": 1}, "encoding": {"x": {"field": "key", "type": "nominal"}, "y": {"field": "upper", "type": "quantitative"}, "color": {"field": "group", "type": "nominal"}}},
    {"data": {"name": "brk"}, "transform": [{"filter": "datum.panel === 'H' && datum.kind === 'v'"}], "mark": {"type": "rule", "color": "#333", "strokeWidth": 1.5}, "encoding": {"x": {"field": "x", "type": "nominal", "bandPosition": 0.5}, "y": {"field": "y", "type": "quantitative"}, "y2": {"field": "y2"}}},
    {"data": {"name": "brk"}, "transform": [{"filter": "datum.panel === 'H' && datum.kind === 'vm'"}], "mark": {"type": "rule", "color": "#333", "strokeWidth": 1.5}, "encoding": {"x": {"field": "x", "type": "nominal", "bandPosition": 1.185}, "y": {"field": "y", "type": "quantitative"}, "y2": {"field": "y2"}}},
    {"data": {"name": "brk"}, "transform": [{"filter": "datum.panel === 'H' && datum.kind === 'h'"}], "mark": {"type": "rule", "color": "#333", "strokeWidth": 1.5}, "encoding": {"x": {"field": "x", "type": "nominal", "bandPosition": 0.5}, "x2": {"field": "x2", "bandPosition": 0.5}, "y": {"field": "y", "type": "quantitative"}}},
    {"data": {"name": "brk"}, "transform": [{"filter": "datum.panel === 'H' && datum.kind === 'hm'"}], "mark": {"type": "rule", "color": "#333", "strokeWidth": 1.5}, "encoding": {"x": {"field": "x", "type": "nominal", "bandPosition": 0.5}, "x2": {"field": "x2", "bandPosition": 1.185}, "y": {"field": "y", "type": "quantitative"}}},
    {"data": {"name": "brk"}, "transform": [{"filter": "datum.panel === 'H' && datum.kind === 'cap'"}], "mark": {"type": "rule", "color": "#333", "strokeWidth": 1.5}, "encoding": {"x": {"field": "x", "type": "nominal", "bandPosition": 0}, "x2": {"field": "x", "bandPosition": 1}, "y": {"field": "y", "type": "quantitative"}}},
    {"data": {"name": "brk"}, "transform": [{"filter": "datum.panel === 'H' && datum.kind === 'span'"}], "mark": {"type": "rule", "color": "#333", "strokeWidth": 1.5}, "encoding": {"x": {"field": "x", "type": "nominal", "bandPosition": 0.2}, "x2": {"field": "x2", "bandPosition": 0.72}, "y": {"field": "y", "type": "quantitative"}}},
    {"data": {"name": "brk"}, "transform": [{"filter": "datum.panel === 'H' && datum.kind === 'tc'"}], "mark": {"type": "text", "fontSize": 16, "baseline": "alphabetic", "dy": 1, "color": "#222"}, "encoding": {"x": {"field": "x", "type": "nominal", "bandPosition": 0.5}, "y": {"field": "y", "type": "quantitative"}, "text": {"field": "label"}}}
   ]}
 ]}
]
}
